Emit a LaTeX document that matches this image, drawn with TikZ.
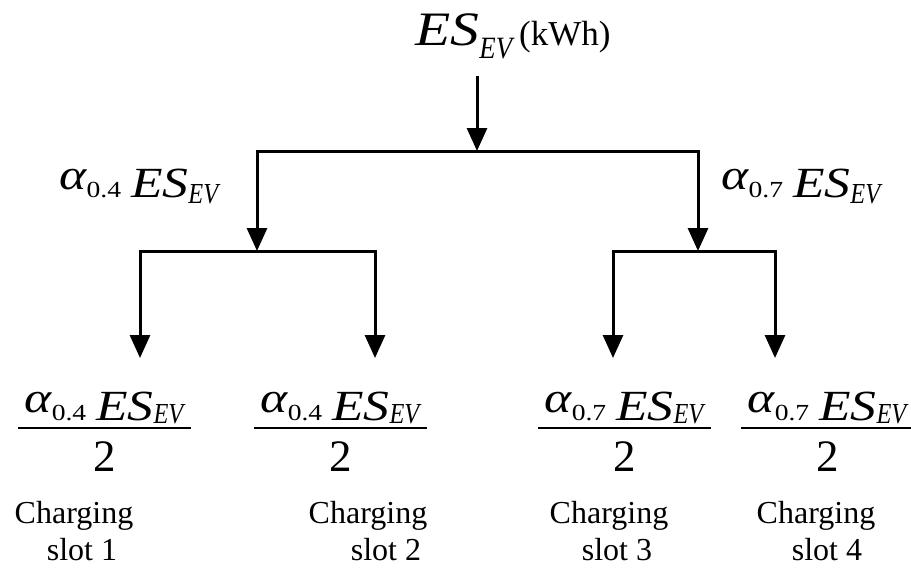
\documentclass[tikz,border=0pt]{standalone}
\usepackage{fontspec}
\setmainfont{Liberation Serif}[UprightFeatures={FakeStretch=1.2},ItalicFeatures={FakeStretch=1.2}]
\newfontfamily\plainf{Liberation Serif}
\usetikzlibrary{arrows.meta}
\newcommand\mySz[1]{\fontsize{#1}{#1}\selectfont}
\newcommand\myAl[1]{\raisebox{8pt}{\mySz{43}\itshape α}{\mySz{23}#1}}
\newcommand\myLab[2]{\myAl{#1}\hspace{10pt}{\mySz{43}\itshape ES}\raisebox{-#2}{\scalebox{0.7}[1]{\mySz{29}\itshape EV}}}
\begin{document}
\begin{tikzpicture}[x=1pt,y=-1pt,line width=3pt,
  arr/.style={-{Triangle[width=20pt,length=23pt]}},
  txt/.style={inner sep=0pt},
  slotlab/.style={inner sep=0pt,align=center,font=\plainf\fontsize{32}{37}\selectfont},
  fbar/.style={line width=2.5pt}]
\useasboundingbox (0,0) rectangle (911,568);
% top label
\node[txt,anchor=base west] (top) at (414,45) {{\mySz{48}\itshape ES}\raisebox{-13pt}{\scalebox{0.72}[1]{\mySz{31}\itshape EV}}\hspace{7pt}{\plainf\mySz{35}(kWh)}};
% junctions
\coordinate (a0) at (477,76);
\coordinate (j0) at (477,151);
\coordinate (jl) at (257,251);
\coordinate (jr) at (698,251);
\coordinate (s1) at (140,358);
\coordinate (s2) at (375,358);
\coordinate (s3) at (613,358);
\coordinate (s4) at (775,358);
\draw[arr] (a0) -- (j0);
\draw[arr] (j0) -| (jl);
\draw[arr] (j0) -| (jr);
\draw[arr] (jl) -| (s1);
\draw[arr] (jl) -| (s2);
\draw[arr] (jr) -| (s3);
\draw[arr] (jr) -| (s4);
% level 2 labels
\node[txt,anchor=base west] (ll) at (58,197) {\myLab{0.4}{6pt}};
\node[txt,anchor=base west] (lr) at (720,197) {\myLab{0.7}{6pt}};
% fractions
\foreach \i/\x/\a in {1/104/0.4,2/340/0.4,3/624/0.7,4/827/0.7}{
  \node[inner sep=0pt,anchor=base] (n\i) at (\x,420) {\myLab{\a}{3pt}};
  \draw[fbar] ([xshift=-5pt]n\i.west |- 0,428) -- ([xshift=6pt]n\i.east |- 0,428);
  \node[txt,anchor=base,text height=31pt,text depth=0pt] (d\i) at (\x+1,471) {\plainf\mySz{45}2};
}
% slot labels
\node[slotlab,anchor=base] (c1) at (74,560) {Charging\\\hspace*{16pt}slot 1};
\node[slotlab,anchor=base] (c2) at (368,560) {Charging\\\hspace*{36pt}slot 2};
\node[slotlab,anchor=base] (c3) at (609,560) {Charging\\\hspace*{16pt}slot 3};
\node[slotlab,anchor=base] (c4) at (816,560) {Charging\\\hspace*{22pt}slot 4};
\end{tikzpicture}
\end{document}
